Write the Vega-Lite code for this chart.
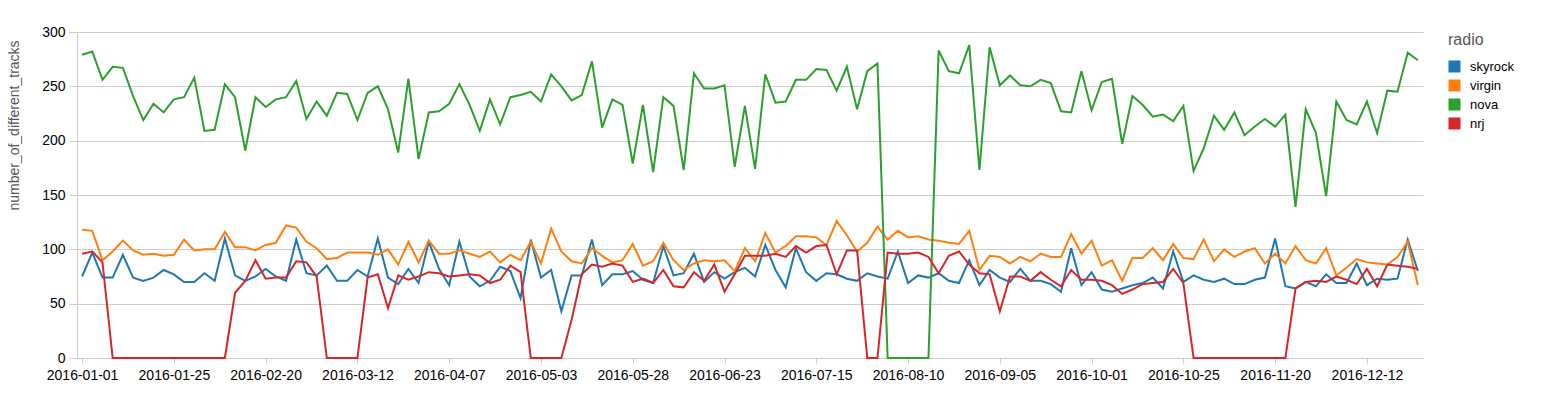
{
  "$schema": "https://vega.github.io/schema/vega-lite/v6.json",
  "autosize": "none",
  "padding": {"left": 77, "top": 32, "right": 118, "bottom": 38},
  "width": 1346,
  "height": 326,
  "background": "white",
  "data": {"values": [
{"date":"2016-01-01","radio":"skyrock","n":75},{"date":"2016-01-04","radio":"skyrock","n":97},{"date":"2016-01-06","radio":"skyrock","n":74},{"date":"2016-01-09","radio":"skyrock","n":74},{"date":"2016-01-12","radio":"skyrock","n":95},{"date":"2016-01-14","radio":"skyrock","n":74},{"date":"2016-01-17","radio":"skyrock","n":71},{"date":"2016-01-19","radio":"skyrock","n":74},{"date":"2016-01-22","radio":"skyrock","n":81},{"date":"2016-01-25","radio":"skyrock","n":77},{"date":"2016-01-28","radio":"skyrock","n":70},{"date":"2016-01-31","radio":"skyrock","n":70},
{"date":"2016-02-02","radio":"skyrock","n":78},{"date":"2016-02-05","radio":"skyrock","n":71},{"date":"2016-02-08","radio":"skyrock","n":110},{"date":"2016-02-11","radio":"skyrock","n":76},{"date":"2016-02-14","radio":"skyrock","n":71},{"date":"2016-02-17","radio":"skyrock","n":75},{"date":"2016-02-20","radio":"skyrock","n":82},{"date":"2016-02-22","radio":"skyrock","n":75},{"date":"2016-02-25","radio":"skyrock","n":71},{"date":"2016-02-27","radio":"skyrock","n":109},{"date":"2016-02-29","radio":"skyrock","n":78},{"date":"2016-03-02","radio":"skyrock","n":76},
{"date":"2016-03-05","radio":"skyrock","n":85},{"date":"2016-03-07","radio":"skyrock","n":71},{"date":"2016-03-09","radio":"skyrock","n":71},{"date":"2016-03-12","radio":"skyrock","n":81},{"date":"2016-03-15","radio":"skyrock","n":75},{"date":"2016-03-18","radio":"skyrock","n":110},{"date":"2016-03-20","radio":"skyrock","n":74},{"date":"2016-03-23","radio":"skyrock","n":68},{"date":"2016-03-26","radio":"skyrock","n":82},{"date":"2016-03-29","radio":"skyrock","n":69},{"date":"2016-04-01","radio":"skyrock","n":107},{"date":"2016-04-04","radio":"skyrock","n":82},
{"date":"2016-04-07","radio":"skyrock","n":67},{"date":"2016-04-10","radio":"skyrock","n":107},{"date":"2016-04-13","radio":"skyrock","n":75},{"date":"2016-04-15","radio":"skyrock","n":66},{"date":"2016-04-18","radio":"skyrock","n":71},{"date":"2016-04-21","radio":"skyrock","n":84},{"date":"2016-04-24","radio":"skyrock","n":80},{"date":"2016-04-27","radio":"skyrock","n":55},{"date":"2016-04-30","radio":"skyrock","n":109},{"date":"2016-05-03","radio":"skyrock","n":74},{"date":"2016-05-06","radio":"skyrock","n":81},{"date":"2016-05-08","radio":"skyrock","n":43},
{"date":"2016-05-11","radio":"skyrock","n":76},{"date":"2016-05-14","radio":"skyrock","n":76},{"date":"2016-05-17","radio":"skyrock","n":109},{"date":"2016-05-19","radio":"skyrock","n":67},{"date":"2016-05-22","radio":"skyrock","n":77},{"date":"2016-05-25","radio":"skyrock","n":77},{"date":"2016-05-28","radio":"skyrock","n":80},{"date":"2016-05-31","radio":"skyrock","n":72},{"date":"2016-06-03","radio":"skyrock","n":69},{"date":"2016-06-05","radio":"skyrock","n":103},{"date":"2016-06-08","radio":"skyrock","n":76},{"date":"2016-06-11","radio":"skyrock","n":78},
{"date":"2016-06-14","radio":"skyrock","n":96},{"date":"2016-06-17","radio":"skyrock","n":70},{"date":"2016-06-20","radio":"skyrock","n":79},{"date":"2016-06-23","radio":"skyrock","n":73},{"date":"2016-06-25","radio":"skyrock","n":79},{"date":"2016-06-28","radio":"skyrock","n":83},{"date":"2016-06-30","radio":"skyrock","n":75},{"date":"2016-07-03","radio":"skyrock","n":104},{"date":"2016-07-05","radio":"skyrock","n":81},{"date":"2016-07-08","radio":"skyrock","n":65},{"date":"2016-07-10","radio":"skyrock","n":101},{"date":"2016-07-13","radio":"skyrock","n":79},
{"date":"2016-07-15","radio":"skyrock","n":71},{"date":"2016-07-18","radio":"skyrock","n":78},{"date":"2016-07-21","radio":"skyrock","n":77},{"date":"2016-07-23","radio":"skyrock","n":73},{"date":"2016-07-26","radio":"skyrock","n":71},{"date":"2016-07-29","radio":"skyrock","n":78},{"date":"2016-08-01","radio":"skyrock","n":75},{"date":"2016-08-04","radio":"skyrock","n":73},{"date":"2016-08-07","radio":"skyrock","n":98},{"date":"2016-08-10","radio":"skyrock","n":69},{"date":"2016-08-13","radio":"skyrock","n":76},{"date":"2016-08-16","radio":"skyrock","n":74},
{"date":"2016-08-18","radio":"skyrock","n":78},{"date":"2016-08-21","radio":"skyrock","n":71},{"date":"2016-08-24","radio":"skyrock","n":69},{"date":"2016-08-27","radio":"skyrock","n":90},{"date":"2016-08-30","radio":"skyrock","n":67},{"date":"2016-09-02","radio":"skyrock","n":81},{"date":"2016-09-05","radio":"skyrock","n":74},{"date":"2016-09-08","radio":"skyrock","n":70},{"date":"2016-09-11","radio":"skyrock","n":82},{"date":"2016-09-13","radio":"skyrock","n":71},{"date":"2016-09-16","radio":"skyrock","n":71},{"date":"2016-09-19","radio":"skyrock","n":68},
{"date":"2016-09-22","radio":"skyrock","n":61},{"date":"2016-09-25","radio":"skyrock","n":101},{"date":"2016-09-28","radio":"skyrock","n":67},{"date":"2016-10-01","radio":"skyrock","n":79},{"date":"2016-10-04","radio":"skyrock","n":63},{"date":"2016-10-06","radio":"skyrock","n":61},{"date":"2016-10-09","radio":"skyrock","n":64},{"date":"2016-10-12","radio":"skyrock","n":67},{"date":"2016-10-14","radio":"skyrock","n":69},{"date":"2016-10-17","radio":"skyrock","n":74},{"date":"2016-10-19","radio":"skyrock","n":64},{"date":"2016-10-22","radio":"skyrock","n":98},
{"date":"2016-10-25","radio":"skyrock","n":70},{"date":"2016-10-28","radio":"skyrock","n":76},{"date":"2016-10-31","radio":"skyrock","n":72},{"date":"2016-11-02","radio":"skyrock","n":70},{"date":"2016-11-05","radio":"skyrock","n":73},{"date":"2016-11-08","radio":"skyrock","n":68},{"date":"2016-11-11","radio":"skyrock","n":68},{"date":"2016-11-14","radio":"skyrock","n":72},{"date":"2016-11-17","radio":"skyrock","n":74},{"date":"2016-11-20","radio":"skyrock","n":110},{"date":"2016-11-22","radio":"skyrock","n":66},{"date":"2016-11-25","radio":"skyrock","n":64},
{"date":"2016-11-27","radio":"skyrock","n":70},{"date":"2016-11-30","radio":"skyrock","n":66},{"date":"2016-12-02","radio":"skyrock","n":77},{"date":"2016-12-05","radio":"skyrock","n":69},{"date":"2016-12-07","radio":"skyrock","n":69},{"date":"2016-12-10","radio":"skyrock","n":87},{"date":"2016-12-12","radio":"skyrock","n":67},{"date":"2016-12-15","radio":"skyrock","n":73},{"date":"2016-12-18","radio":"skyrock","n":72},{"date":"2016-12-21","radio":"skyrock","n":73},{"date":"2016-12-24","radio":"skyrock","n":109},{"date":"2016-12-27","radio":"skyrock","n":80},

{"date":"2016-01-01","radio":"virgin","n":118},{"date":"2016-01-04","radio":"virgin","n":117},{"date":"2016-01-06","radio":"virgin","n":90},{"date":"2016-01-09","radio":"virgin","n":98},{"date":"2016-01-12","radio":"virgin","n":108},{"date":"2016-01-14","radio":"virgin","n":99},{"date":"2016-01-17","radio":"virgin","n":95},{"date":"2016-01-19","radio":"virgin","n":96},{"date":"2016-01-22","radio":"virgin","n":94},{"date":"2016-01-25","radio":"virgin","n":95},{"date":"2016-01-28","radio":"virgin","n":109},{"date":"2016-01-31","radio":"virgin","n":99},
{"date":"2016-02-02","radio":"virgin","n":100},{"date":"2016-02-05","radio":"virgin","n":100},{"date":"2016-02-08","radio":"virgin","n":116},{"date":"2016-02-11","radio":"virgin","n":102},{"date":"2016-02-14","radio":"virgin","n":102},{"date":"2016-02-17","radio":"virgin","n":99},{"date":"2016-02-20","radio":"virgin","n":104},{"date":"2016-02-22","radio":"virgin","n":106},{"date":"2016-02-25","radio":"virgin","n":122},{"date":"2016-02-27","radio":"virgin","n":120},{"date":"2016-02-29","radio":"virgin","n":107},{"date":"2016-03-02","radio":"virgin","n":101},
{"date":"2016-03-05","radio":"virgin","n":91},{"date":"2016-03-07","radio":"virgin","n":92},{"date":"2016-03-09","radio":"virgin","n":97},{"date":"2016-03-12","radio":"virgin","n":97},{"date":"2016-03-15","radio":"virgin","n":97},{"date":"2016-03-18","radio":"virgin","n":95},{"date":"2016-03-20","radio":"virgin","n":100},{"date":"2016-03-23","radio":"virgin","n":86},{"date":"2016-03-26","radio":"virgin","n":107},{"date":"2016-03-29","radio":"virgin","n":88},{"date":"2016-04-01","radio":"virgin","n":108},{"date":"2016-04-04","radio":"virgin","n":96},
{"date":"2016-04-07","radio":"virgin","n":96},{"date":"2016-04-10","radio":"virgin","n":99},{"date":"2016-04-13","radio":"virgin","n":96},{"date":"2016-04-15","radio":"virgin","n":93},{"date":"2016-04-18","radio":"virgin","n":98},{"date":"2016-04-21","radio":"virgin","n":88},{"date":"2016-04-24","radio":"virgin","n":95},{"date":"2016-04-27","radio":"virgin","n":90},{"date":"2016-04-30","radio":"virgin","n":107},{"date":"2016-05-03","radio":"virgin","n":87},{"date":"2016-05-06","radio":"virgin","n":119},{"date":"2016-05-08","radio":"virgin","n":98},
{"date":"2016-05-11","radio":"virgin","n":89},{"date":"2016-05-14","radio":"virgin","n":87},{"date":"2016-05-17","radio":"virgin","n":101},{"date":"2016-05-19","radio":"virgin","n":94},{"date":"2016-05-22","radio":"virgin","n":88},{"date":"2016-05-25","radio":"virgin","n":90},{"date":"2016-05-28","radio":"virgin","n":105},{"date":"2016-05-31","radio":"virgin","n":85},{"date":"2016-06-03","radio":"virgin","n":89},{"date":"2016-06-05","radio":"virgin","n":106},{"date":"2016-06-08","radio":"virgin","n":90},{"date":"2016-06-11","radio":"virgin","n":81},
{"date":"2016-06-14","radio":"virgin","n":87},{"date":"2016-06-17","radio":"virgin","n":90},{"date":"2016-06-20","radio":"virgin","n":89},{"date":"2016-06-23","radio":"virgin","n":90},{"date":"2016-06-25","radio":"virgin","n":80},{"date":"2016-06-28","radio":"virgin","n":101},{"date":"2016-06-30","radio":"virgin","n":89},{"date":"2016-07-03","radio":"virgin","n":115},{"date":"2016-07-05","radio":"virgin","n":97},{"date":"2016-07-08","radio":"virgin","n":103},{"date":"2016-07-10","radio":"virgin","n":112},{"date":"2016-07-13","radio":"virgin","n":112},
{"date":"2016-07-15","radio":"virgin","n":111},{"date":"2016-07-18","radio":"virgin","n":104},{"date":"2016-07-21","radio":"virgin","n":126},{"date":"2016-07-23","radio":"virgin","n":113},{"date":"2016-07-26","radio":"virgin","n":98},{"date":"2016-07-29","radio":"virgin","n":106},{"date":"2016-08-01","radio":"virgin","n":121},{"date":"2016-08-04","radio":"virgin","n":109},{"date":"2016-08-07","radio":"virgin","n":117},{"date":"2016-08-10","radio":"virgin","n":111},{"date":"2016-08-13","radio":"virgin","n":112},{"date":"2016-08-16","radio":"virgin","n":109},
{"date":"2016-08-18","radio":"virgin","n":108},{"date":"2016-08-21","radio":"virgin","n":106},{"date":"2016-08-24","radio":"virgin","n":105},{"date":"2016-08-27","radio":"virgin","n":117},{"date":"2016-08-30","radio":"virgin","n":81},{"date":"2016-09-02","radio":"virgin","n":94},{"date":"2016-09-05","radio":"virgin","n":93},{"date":"2016-09-08","radio":"virgin","n":87},{"date":"2016-09-11","radio":"virgin","n":93},{"date":"2016-09-13","radio":"virgin","n":89},{"date":"2016-09-16","radio":"virgin","n":96},{"date":"2016-09-19","radio":"virgin","n":93},
{"date":"2016-09-22","radio":"virgin","n":93},{"date":"2016-09-25","radio":"virgin","n":114},{"date":"2016-09-28","radio":"virgin","n":96},{"date":"2016-10-01","radio":"virgin","n":108},{"date":"2016-10-04","radio":"virgin","n":85},{"date":"2016-10-06","radio":"virgin","n":90},{"date":"2016-10-09","radio":"virgin","n":71},{"date":"2016-10-12","radio":"virgin","n":92},{"date":"2016-10-14","radio":"virgin","n":92},{"date":"2016-10-17","radio":"virgin","n":101},{"date":"2016-10-19","radio":"virgin","n":90},{"date":"2016-10-22","radio":"virgin","n":105},
{"date":"2016-10-25","radio":"virgin","n":92},{"date":"2016-10-28","radio":"virgin","n":91},{"date":"2016-10-31","radio":"virgin","n":109},{"date":"2016-11-02","radio":"virgin","n":89},{"date":"2016-11-05","radio":"virgin","n":100},{"date":"2016-11-08","radio":"virgin","n":93},{"date":"2016-11-11","radio":"virgin","n":98},{"date":"2016-11-14","radio":"virgin","n":101},{"date":"2016-11-17","radio":"virgin","n":87},{"date":"2016-11-20","radio":"virgin","n":96},{"date":"2016-11-22","radio":"virgin","n":87},{"date":"2016-11-25","radio":"virgin","n":103},
{"date":"2016-11-27","radio":"virgin","n":90},{"date":"2016-11-30","radio":"virgin","n":87},{"date":"2016-12-02","radio":"virgin","n":101},{"date":"2016-12-05","radio":"virgin","n":76},{"date":"2016-12-07","radio":"virgin","n":83},{"date":"2016-12-10","radio":"virgin","n":91},{"date":"2016-12-12","radio":"virgin","n":88},{"date":"2016-12-15","radio":"virgin","n":87},{"date":"2016-12-18","radio":"virgin","n":86},{"date":"2016-12-21","radio":"virgin","n":93},{"date":"2016-12-24","radio":"virgin","n":107},{"date":"2016-12-27","radio":"virgin","n":67},

{"date":"2016-01-01","radio":"nova","n":279},{"date":"2016-01-04","radio":"nova","n":282},{"date":"2016-01-06","radio":"nova","n":256},{"date":"2016-01-09","radio":"nova","n":268},{"date":"2016-01-12","radio":"nova","n":267},{"date":"2016-01-14","radio":"nova","n":241},{"date":"2016-01-17","radio":"nova","n":219},{"date":"2016-01-19","radio":"nova","n":234},{"date":"2016-01-22","radio":"nova","n":226},{"date":"2016-01-25","radio":"nova","n":238},{"date":"2016-01-28","radio":"nova","n":240},{"date":"2016-01-31","radio":"nova","n":258},
{"date":"2016-02-02","radio":"nova","n":209},{"date":"2016-02-05","radio":"nova","n":210},{"date":"2016-02-08","radio":"nova","n":252},{"date":"2016-02-11","radio":"nova","n":240},{"date":"2016-02-14","radio":"nova","n":191},{"date":"2016-02-17","radio":"nova","n":240},{"date":"2016-02-20","radio":"nova","n":231},{"date":"2016-02-22","radio":"nova","n":238},{"date":"2016-02-25","radio":"nova","n":240},{"date":"2016-02-27","radio":"nova","n":255},{"date":"2016-02-29","radio":"nova","n":220},{"date":"2016-03-02","radio":"nova","n":236},
{"date":"2016-03-05","radio":"nova","n":223},{"date":"2016-03-07","radio":"nova","n":244},{"date":"2016-03-09","radio":"nova","n":243},{"date":"2016-03-12","radio":"nova","n":219},{"date":"2016-03-15","radio":"nova","n":244},{"date":"2016-03-18","radio":"nova","n":250},{"date":"2016-03-20","radio":"nova","n":229},{"date":"2016-03-23","radio":"nova","n":189},{"date":"2016-03-26","radio":"nova","n":257},{"date":"2016-03-29","radio":"nova","n":183},{"date":"2016-04-01","radio":"nova","n":226},{"date":"2016-04-04","radio":"nova","n":227},
{"date":"2016-04-07","radio":"nova","n":234},{"date":"2016-04-10","radio":"nova","n":252},{"date":"2016-04-13","radio":"nova","n":233},{"date":"2016-04-15","radio":"nova","n":209},{"date":"2016-04-18","radio":"nova","n":238},{"date":"2016-04-21","radio":"nova","n":215},{"date":"2016-04-24","radio":"nova","n":240},{"date":"2016-04-27","radio":"nova","n":242},{"date":"2016-04-30","radio":"nova","n":245},{"date":"2016-05-03","radio":"nova","n":236},{"date":"2016-05-06","radio":"nova","n":261},{"date":"2016-05-08","radio":"nova","n":250},
{"date":"2016-05-11","radio":"nova","n":237},{"date":"2016-05-14","radio":"nova","n":242},{"date":"2016-05-17","radio":"nova","n":273},{"date":"2016-05-19","radio":"nova","n":212},{"date":"2016-05-22","radio":"nova","n":238},{"date":"2016-05-25","radio":"nova","n":233},{"date":"2016-05-28","radio":"nova","n":179},{"date":"2016-05-31","radio":"nova","n":233},{"date":"2016-06-03","radio":"nova","n":171},{"date":"2016-06-05","radio":"nova","n":240},{"date":"2016-06-08","radio":"nova","n":232},{"date":"2016-06-11","radio":"nova","n":173},
{"date":"2016-06-14","radio":"nova","n":262},{"date":"2016-06-17","radio":"nova","n":248},{"date":"2016-06-20","radio":"nova","n":248},{"date":"2016-06-23","radio":"nova","n":251},{"date":"2016-06-25","radio":"nova","n":176},{"date":"2016-06-28","radio":"nova","n":232},{"date":"2016-06-30","radio":"nova","n":174},{"date":"2016-07-03","radio":"nova","n":261},{"date":"2016-07-05","radio":"nova","n":235},{"date":"2016-07-08","radio":"nova","n":236},{"date":"2016-07-10","radio":"nova","n":256},{"date":"2016-07-13","radio":"nova","n":256},
{"date":"2016-07-15","radio":"nova","n":266},{"date":"2016-07-18","radio":"nova","n":265},{"date":"2016-07-21","radio":"nova","n":246},{"date":"2016-07-23","radio":"nova","n":268},{"date":"2016-07-26","radio":"nova","n":229},{"date":"2016-07-29","radio":"nova","n":264},{"date":"2016-08-01","radio":"nova","n":271},{"date":"2016-08-04","radio":"nova","n":0},{"date":"2016-08-07","radio":"nova","n":0},{"date":"2016-08-10","radio":"nova","n":0},{"date":"2016-08-13","radio":"nova","n":0},{"date":"2016-08-16","radio":"nova","n":0},
{"date":"2016-08-18","radio":"nova","n":283},{"date":"2016-08-21","radio":"nova","n":264},{"date":"2016-08-24","radio":"nova","n":262},{"date":"2016-08-27","radio":"nova","n":288},{"date":"2016-08-30","radio":"nova","n":173},{"date":"2016-09-02","radio":"nova","n":286},{"date":"2016-09-05","radio":"nova","n":251},{"date":"2016-09-08","radio":"nova","n":260},{"date":"2016-09-11","radio":"nova","n":251},{"date":"2016-09-13","radio":"nova","n":250},{"date":"2016-09-16","radio":"nova","n":256},{"date":"2016-09-19","radio":"nova","n":253},
{"date":"2016-09-22","radio":"nova","n":227},{"date":"2016-09-25","radio":"nova","n":226},{"date":"2016-09-28","radio":"nova","n":264},{"date":"2016-10-01","radio":"nova","n":228},{"date":"2016-10-04","radio":"nova","n":254},{"date":"2016-10-06","radio":"nova","n":257},{"date":"2016-10-09","radio":"nova","n":197},{"date":"2016-10-12","radio":"nova","n":241},{"date":"2016-10-14","radio":"nova","n":233},{"date":"2016-10-17","radio":"nova","n":222},{"date":"2016-10-19","radio":"nova","n":224},{"date":"2016-10-22","radio":"nova","n":218},
{"date":"2016-10-25","radio":"nova","n":232},{"date":"2016-10-28","radio":"nova","n":172},{"date":"2016-10-31","radio":"nova","n":193},{"date":"2016-11-02","radio":"nova","n":223},{"date":"2016-11-05","radio":"nova","n":210},{"date":"2016-11-08","radio":"nova","n":226},{"date":"2016-11-11","radio":"nova","n":205},{"date":"2016-11-14","radio":"nova","n":213},{"date":"2016-11-17","radio":"nova","n":220},{"date":"2016-11-20","radio":"nova","n":213},{"date":"2016-11-22","radio":"nova","n":224},{"date":"2016-11-25","radio":"nova","n":139},
{"date":"2016-11-27","radio":"nova","n":229},{"date":"2016-11-30","radio":"nova","n":207},{"date":"2016-12-02","radio":"nova","n":149},{"date":"2016-12-05","radio":"nova","n":236},{"date":"2016-12-07","radio":"nova","n":219},{"date":"2016-12-10","radio":"nova","n":215},{"date":"2016-12-12","radio":"nova","n":236},{"date":"2016-12-15","radio":"nova","n":207},{"date":"2016-12-18","radio":"nova","n":246},{"date":"2016-12-21","radio":"nova","n":245},{"date":"2016-12-24","radio":"nova","n":281},{"date":"2016-12-27","radio":"nova","n":274},

{"date":"2016-01-01","radio":"nrj","n":96},{"date":"2016-01-04","radio":"nrj","n":98},{"date":"2016-01-06","radio":"nrj","n":88},{"date":"2016-01-09","radio":"nrj","n":0},{"date":"2016-01-12","radio":"nrj","n":0},{"date":"2016-01-14","radio":"nrj","n":0},{"date":"2016-01-17","radio":"nrj","n":0},{"date":"2016-01-19","radio":"nrj","n":0},{"date":"2016-01-22","radio":"nrj","n":0},{"date":"2016-01-25","radio":"nrj","n":0},{"date":"2016-01-28","radio":"nrj","n":0},{"date":"2016-01-31","radio":"nrj","n":0},
{"date":"2016-02-02","radio":"nrj","n":0},{"date":"2016-02-05","radio":"nrj","n":0},{"date":"2016-02-08","radio":"nrj","n":0},{"date":"2016-02-11","radio":"nrj","n":60},{"date":"2016-02-14","radio":"nrj","n":71},{"date":"2016-02-17","radio":"nrj","n":90},{"date":"2016-02-20","radio":"nrj","n":73},{"date":"2016-02-22","radio":"nrj","n":74},{"date":"2016-02-25","radio":"nrj","n":74},{"date":"2016-02-27","radio":"nrj","n":89},{"date":"2016-02-29","radio":"nrj","n":88},{"date":"2016-03-02","radio":"nrj","n":75},
{"date":"2016-03-05","radio":"nrj","n":0},{"date":"2016-03-07","radio":"nrj","n":0},{"date":"2016-03-09","radio":"nrj","n":0},{"date":"2016-03-12","radio":"nrj","n":0},{"date":"2016-03-15","radio":"nrj","n":74},{"date":"2016-03-18","radio":"nrj","n":77},{"date":"2016-03-20","radio":"nrj","n":46},{"date":"2016-03-23","radio":"nrj","n":76},{"date":"2016-03-26","radio":"nrj","n":72},{"date":"2016-03-29","radio":"nrj","n":75},{"date":"2016-04-01","radio":"nrj","n":79},{"date":"2016-04-04","radio":"nrj","n":78},
{"date":"2016-04-07","radio":"nrj","n":75},{"date":"2016-04-10","radio":"nrj","n":76},{"date":"2016-04-13","radio":"nrj","n":77},{"date":"2016-04-15","radio":"nrj","n":76},{"date":"2016-04-18","radio":"nrj","n":69},{"date":"2016-04-21","radio":"nrj","n":72},{"date":"2016-04-24","radio":"nrj","n":85},{"date":"2016-04-27","radio":"nrj","n":79},{"date":"2016-04-30","radio":"nrj","n":0},{"date":"2016-05-03","radio":"nrj","n":0},{"date":"2016-05-06","radio":"nrj","n":0},{"date":"2016-05-08","radio":"nrj","n":0},
{"date":"2016-05-11","radio":"nrj","n":35},{"date":"2016-05-14","radio":"nrj","n":77},{"date":"2016-05-17","radio":"nrj","n":86},{"date":"2016-05-19","radio":"nrj","n":84},{"date":"2016-05-22","radio":"nrj","n":87},{"date":"2016-05-25","radio":"nrj","n":85},{"date":"2016-05-28","radio":"nrj","n":70},{"date":"2016-05-31","radio":"nrj","n":73},{"date":"2016-06-03","radio":"nrj","n":69},{"date":"2016-06-05","radio":"nrj","n":81},{"date":"2016-06-08","radio":"nrj","n":66},{"date":"2016-06-11","radio":"nrj","n":65},
{"date":"2016-06-14","radio":"nrj","n":79},{"date":"2016-06-17","radio":"nrj","n":71},{"date":"2016-06-20","radio":"nrj","n":86},{"date":"2016-06-23","radio":"nrj","n":61},{"date":"2016-06-25","radio":"nrj","n":77},{"date":"2016-06-28","radio":"nrj","n":94},{"date":"2016-06-30","radio":"nrj","n":94},{"date":"2016-07-03","radio":"nrj","n":94},{"date":"2016-07-05","radio":"nrj","n":96},{"date":"2016-07-08","radio":"nrj","n":93},{"date":"2016-07-10","radio":"nrj","n":103},{"date":"2016-07-13","radio":"nrj","n":97},
{"date":"2016-07-15","radio":"nrj","n":103},{"date":"2016-07-18","radio":"nrj","n":104},{"date":"2016-07-21","radio":"nrj","n":77},{"date":"2016-07-23","radio":"nrj","n":99},{"date":"2016-07-26","radio":"nrj","n":99},{"date":"2016-07-29","radio":"nrj","n":0},{"date":"2016-08-01","radio":"nrj","n":0},{"date":"2016-08-04","radio":"nrj","n":97},{"date":"2016-08-07","radio":"nrj","n":96},{"date":"2016-08-10","radio":"nrj","n":96},{"date":"2016-08-13","radio":"nrj","n":97},{"date":"2016-08-16","radio":"nrj","n":93},
{"date":"2016-08-18","radio":"nrj","n":78},{"date":"2016-08-21","radio":"nrj","n":94},{"date":"2016-08-24","radio":"nrj","n":98},{"date":"2016-08-27","radio":"nrj","n":86},{"date":"2016-08-30","radio":"nrj","n":78},{"date":"2016-09-02","radio":"nrj","n":77},{"date":"2016-09-05","radio":"nrj","n":43},{"date":"2016-09-08","radio":"nrj","n":75},{"date":"2016-09-11","radio":"nrj","n":75},{"date":"2016-09-13","radio":"nrj","n":71},{"date":"2016-09-16","radio":"nrj","n":79},{"date":"2016-09-19","radio":"nrj","n":72},
{"date":"2016-09-22","radio":"nrj","n":66},{"date":"2016-09-25","radio":"nrj","n":81},{"date":"2016-09-28","radio":"nrj","n":72},{"date":"2016-10-01","radio":"nrj","n":72},{"date":"2016-10-04","radio":"nrj","n":71},{"date":"2016-10-06","radio":"nrj","n":67},{"date":"2016-10-09","radio":"nrj","n":59},{"date":"2016-10-12","radio":"nrj","n":63},{"date":"2016-10-14","radio":"nrj","n":68},{"date":"2016-10-17","radio":"nrj","n":69},{"date":"2016-10-19","radio":"nrj","n":70},{"date":"2016-10-22","radio":"nrj","n":82},
{"date":"2016-10-25","radio":"nrj","n":69},{"date":"2016-10-28","radio":"nrj","n":0},{"date":"2016-10-31","radio":"nrj","n":0},{"date":"2016-11-02","radio":"nrj","n":0},{"date":"2016-11-05","radio":"nrj","n":0},{"date":"2016-11-08","radio":"nrj","n":0},{"date":"2016-11-11","radio":"nrj","n":0},{"date":"2016-11-14","radio":"nrj","n":0},{"date":"2016-11-17","radio":"nrj","n":0},{"date":"2016-11-20","radio":"nrj","n":0},{"date":"2016-11-22","radio":"nrj","n":0},{"date":"2016-11-25","radio":"nrj","n":64},
{"date":"2016-11-27","radio":"nrj","n":70},{"date":"2016-11-30","radio":"nrj","n":71},{"date":"2016-12-02","radio":"nrj","n":70},{"date":"2016-12-05","radio":"nrj","n":75},{"date":"2016-12-07","radio":"nrj","n":72},{"date":"2016-12-10","radio":"nrj","n":68},{"date":"2016-12-12","radio":"nrj","n":82},{"date":"2016-12-15","radio":"nrj","n":66},{"date":"2016-12-18","radio":"nrj","n":86},{"date":"2016-12-21","radio":"nrj","n":85},{"date":"2016-12-24","radio":"nrj","n":84},{"date":"2016-12-27","radio":"nrj","n":82}
  ]},
  "mark": {"type": "line", "strokeWidth": 2},
  "encoding": {
    "x": {"field": "date", "type": "ordinal", "title": null,
      "axis": {"labelAngle": 0, "grid": false, "labelPadding": 5, "values": ["2016-01-01","2016-01-25","2016-02-20","2016-03-12","2016-04-07","2016-05-03","2016-05-28","2016-06-23","2016-07-15","2016-08-10","2016-09-05","2016-10-01","2016-10-25","2016-11-20","2016-12-12"]}},
    "y": {"field": "n", "type": "quantitative", "title": "number_of_different_tracks",
      "scale": {"domain": [0, 300]},
      "axis": {"values": [0,50,100,150,200,250,300], "tickSize": 8, "labelPadding": 4, "titleFontSize": 14, "titleX": -56, "titleY": 93}},
    "color": {"field": "radio", "type": "nominal", "title": "radio",
      "scale": {"domain": ["skyrock","virgin","nova","nrj"], "range": ["#1f77b4","#ff7f0e","#2ca02c","#d62728"]},
      "legend": {"symbolType": "square", "offset": 25, "encode": {"symbols": {"update": {"fill": {"scale": "color", "field": "value"}, "strokeWidth": {"value": 0}}}}}}
  },
  "config": {
    "view": {"stroke": null},
    "axis": {"labelFont": "Liberation Sans", "titleFont": "Liberation Sans", "labelFontSize": 14, "labelColor": "#000000", "gridColor": "#cccccc", "domainColor": "#cccccc", "tickColor": "#cccccc", "titleColor": "#555555", "titleFontSize": 15, "titleFontWeight": "normal"},
    "legend": {"labelFont": "Liberation Sans", "titleFont": "Liberation Sans", "labelFontSize": 13, "labelColor": "#000000", "titleFontSize": 16, "titleColor": "#555555", "titleFontWeight": "normal", "symbolSize": 144, "rowPadding": 5, "titlePadding": 12, "labelOffset": 9}
  }
}
